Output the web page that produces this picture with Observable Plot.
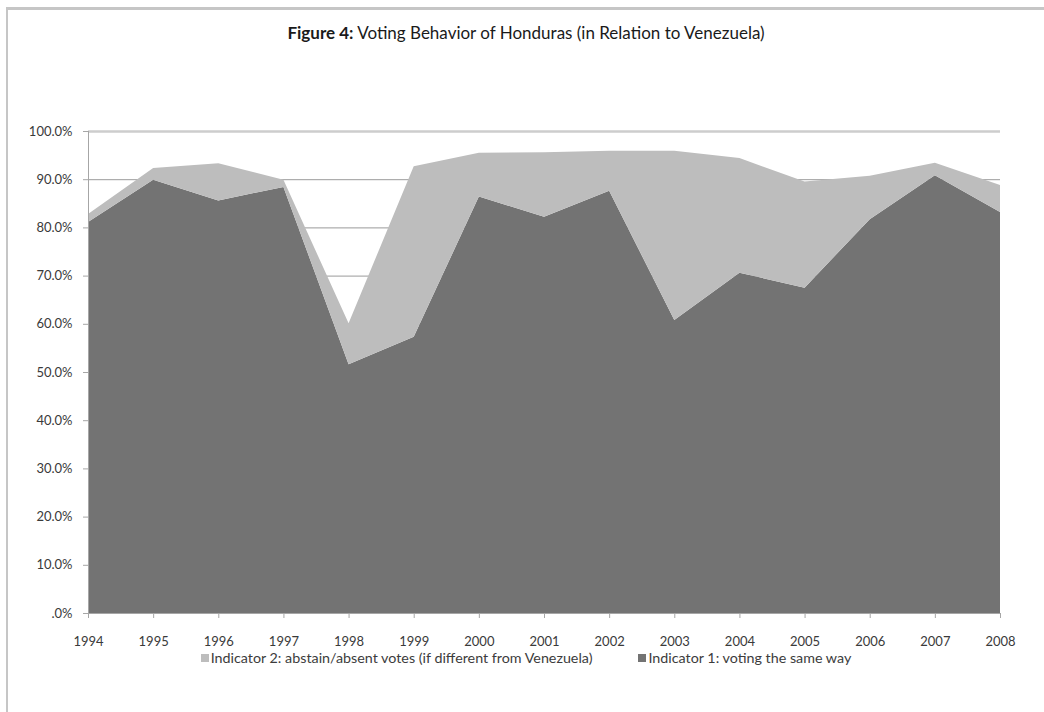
<!DOCTYPE html>
<html>
<head>
<meta charset="utf-8">
<script src="https://cdn.jsdelivr.net/npm/d3@7"></script>
<script src="https://cdn.jsdelivr.net/npm/@observablehq/plot@0.6"></script>
<style>
  html, body { margin: 0; padding: 0; background: #fff; }
  body { width: 1044px; height: 712px; position: relative; overflow: hidden; font-family: Lato, "Open Sans", sans-serif; }
  #frame { position: absolute; left: 6px; top: 7px; width: 1100px; height: 800px; border-left: 2px solid #c6c6c6; border-top: 3px solid #c6c6c6; }
  #title { position: absolute; left: 0; top: 22px; width: 1052px; text-align: center; font-size: 17px; color: #1a1a1a; }
  #chart { position: absolute; left: 0; top: 101px; }
  #legend { position: absolute; left: 0; top: 649px; width: 1052px; text-align: center; font-size: 14.3px; color: #3c3c3c; }
  #legend .item { display: inline-block; margin: 0 23px; }
  #legend .sw { display: inline-block; width: 8px; height: 8px; margin-right: 2px; vertical-align: 1px; }
</style>
</head>
<body>
<div id="frame"></div>
<div id="title"><b>Figure 4:</b> Voting Behavior of Honduras (in Relation to Venezuela)</div>
<div id="chart"></div>
<div id="legend"></div>
<script>
// Years covered
const years = [1994, 1995, 1996, 1997, 1998, 1999, 2000, 2001, 2002, 2003, 2004, 2005, 2006, 2007, 2008];

// Indicator 1: share of votes cast the same way as Venezuela (%)
const sameWay = [81.1, 89.9, 85.6, 88.4, 51.6, 57.3, 86.4, 82.2, 87.6, 60.8, 70.6, 67.5, 81.7, 90.8, 83.2];

// Indicator 2: abstain/absent votes where Venezuela differed (%), stacked on top of Indicator 1
const abstainAbsent = [1.7, 2.4, 7.7, 1.5, 8.5, 35.4, 9.1, 13.4, 8.3, 35.1, 23.8, 22.0, 9.0, 2.6, 5.6];

const seriesNames = ["Indicator 1: voting the same way", "Indicator 2: abstain/absent votes (if different from Venezuela)"];
const seriesColors = ["#737373", "#bdbdbd"];

// y-axis ticks
const yTicks = [0, 10, 20, 30, 40, 50, 60, 70, 80, 90, 100];

const rows = [
  ...years.map((year, i) => ({year, value: sameWay[i], series: seriesNames[0]})),
  ...years.map((year, i) => ({year, value: abstainAbsent[i], series: seriesNames[1]}))
];

const fmtPct = d => d === 0 ? ".0%" : d.toFixed(1) + "%";

const chart = Plot.plot({
  width: 1044,
  height: 559,
  marginLeft: 88,
  marginRight: 44,
  marginTop: 30,
  marginBottom: 47,
  style: {fontFamily: "Lato, 'Open Sans', sans-serif", fontSize: "13px", color: "#3a3a3a", background: "transparent"},
  x: {domain: [1994, 2008], ticks: years, tickFormat: d => String(d), label: null},
  y: {domain: [0, 100], ticks: yTicks, tickFormat: fmtPct, label: null},
  color: {domain: seriesNames, range: seriesColors},
  marks: [
    Plot.ruleY(yTicks.filter(d => d > 0 && d < 100), {stroke: "#9a9a9a", strokeWidth: 1}),
    Plot.ruleY([100], {stroke: "#cdcdcd", strokeWidth: 2.5}),
    Plot.areaY(rows, Plot.stackY({x: "year", y: "value", fill: "series", order: seriesNames})),
    Plot.axisY({ticks: yTicks, tickFormat: fmtPct, tickSize: 5, tickPadding: 11, stroke: "#a6a6a6", fill: "#3a3a3a", fontSize: 13}),
    Plot.ruleX([1994], {stroke: "#a6a6a6"}),
    Plot.axisX({ticks: years, tickFormat: d => String(d), tickSize: 5, tickPadding: 18, stroke: "#a6a6a6", fill: "#3a3a3a", fontSize: 13}),
    Plot.ruleY([0], {stroke: "#a6a6a6"})
  ]
});
document.getElementById("chart").appendChild(chart);

// Legend below the chart, light series first
const legend = document.getElementById("legend");
[1, 0].forEach(i => {
  const item = document.createElement("span");
  item.className = "item";
  const sw = document.createElement("span");
  sw.className = "sw";
  sw.style.background = seriesColors[i];
  item.appendChild(sw);
  item.appendChild(document.createTextNode(seriesNames[i]));
  legend.appendChild(item);
});
</script>
</body>
</html>
